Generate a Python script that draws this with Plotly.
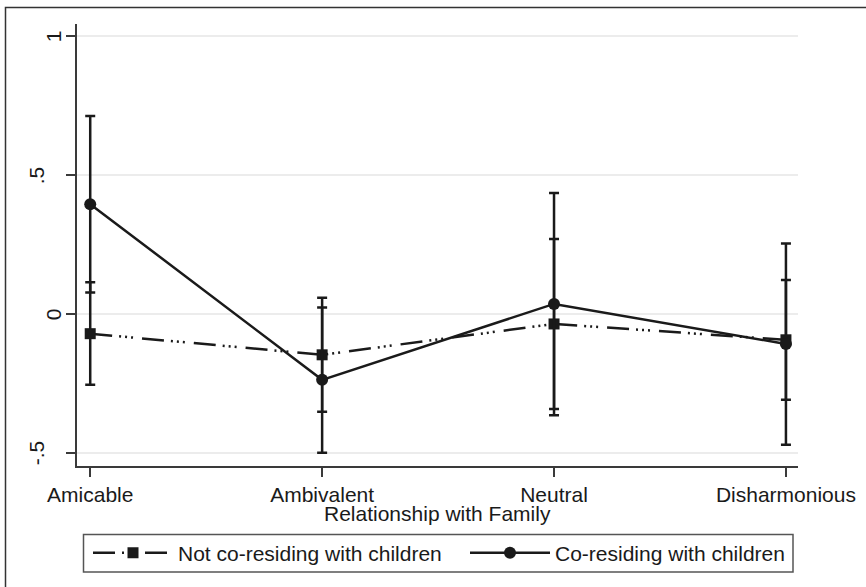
import plotly.graph_objects as go

# ---- data ----
categories = ["Amicable", "Ambivalent", "Neutral", "Disharmonious"]
not_mean = [-0.070, -0.146, -0.035, -0.092]
not_lo = [-0.254, -0.351, -0.341, -0.308]
not_hi = [0.115, 0.059, 0.271, 0.123]
co_mean = [0.396, -0.236, 0.037, -0.107]
co_lo = [0.078, -0.498, -0.363, -0.470]
co_hi = [0.713, 0.024, 0.436, 0.254]
y_tickvals = [-0.5, 0, 0.5, 1]
y_ticktext = ["-.5", "0", ".5", "1"]
series_names = ["Not co-residing with children", "Co-residing with children"]
x_title = "Relationship with Family"

W, H = 866, 587
L, R, T, B = 77, 68, 24, 121
PW, PH = W - L - R, H - T - B
FONT = "Liberation Sans, Arial, sans-serif"
FS = 21
INK = "#1a1a1a"
AX = "#3a3a3a"


def px_x(px):
    return (px - L) / PW


def px_y(py):
    return (H - B - py) / PH


fig = go.Figure()

fig.add_trace(go.Scatter(
    x=categories, y=not_mean, name=series_names[0], mode="lines+markers",
    legend="legend",
    line=dict(color=INK, width=2.5, dash="22px,7px,2px,4px,2px,4px,2px,9px"),
    marker=dict(symbol="square", size=11, color=INK),
    error_y=dict(type="data", symmetric=False,
                 array=[h - m for h, m in zip(not_hi, not_mean)],
                 arrayminus=[m - l for m, l in zip(not_mean, not_lo)],
                 color=INK, thickness=2.5, width=5),
))
fig.add_trace(go.Scatter(
    x=categories, y=co_mean, name=series_names[1], mode="lines+markers",
    legend="legend2",
    line=dict(color=INK, width=2.5),
    marker=dict(symbol="circle", size=12, color=INK),
    error_y=dict(type="data", symmetric=False,
                 array=[h - m for h, m in zip(co_hi, co_mean)],
                 arrayminus=[m - l for m, l in zip(co_mean, co_lo)],
                 color=INK, thickness=2.5, width=5),
))

annotations = []
# rotated y tick labels (Stata style)
for v, t in zip(y_tickvals, y_ticktext):
    cx = 36 if "." in t else 53
    annotations.append(dict(
        x=px_x(cx), xref="paper", y=v, yref="y", text=t, textangle=-90,
        showarrow=False, xanchor="center", yanchor="middle",
        font=dict(family=FONT, size=FS, color=INK),
    ))
# x axis title
annotations.append(dict(
    x=px_x(437), xref="paper", y=px_y(513), yref="paper", text=x_title,
    showarrow=False, xanchor="center", yanchor="middle",
    font=dict(family=FONT, size=FS, color=INK),
))

shapes = [
    # outer graph border
    dict(type="rect", xref="paper", yref="paper",
         x0=px_x(5.5), x1=px_x(880), y0=px_y(600), y1=px_y(7.5),
         line=dict(color="#333333", width=1.5), layer="below"),
    # legend frame
    dict(type="rect", xref="paper", yref="paper",
         x0=px_x(83.5), x1=px_x(793), y0=px_y(572), y1=px_y(534.5),
         line=dict(color="#555555", width=1.5), fillcolor="white", layer="below"),
]

leg_common = dict(orientation="h", xanchor="left", yanchor="middle",
                  bgcolor="rgba(0,0,0,0)", borderwidth=0, itemwidth=80,
                  font=dict(family=FONT, size=FS, color=INK))

fig.update_layout(
    width=W, height=H,
    margin=dict(l=L, r=R, t=T, b=B, autoexpand=False),
    paper_bgcolor="white", plot_bgcolor="white",
    font=dict(family=FONT, size=FS, color=INK),
    showlegend=True,
    legend=dict(x=px_x(88), y=px_y(553), **leg_common),
    legend2=dict(x=px_x(465), y=px_y(553), **leg_common),
    annotations=annotations,
    shapes=shapes,
    xaxis=dict(
        type="category", range=[-0.057, 3.052],
        showgrid=False, zeroline=False, automargin=False,
        showline=True, linecolor=AX, linewidth=1.5,
        ticks="outside", ticklen=9, tickwidth=1.5, tickcolor=AX,
        tickfont=dict(family=FONT, size=FS, color=INK),
    ),
    yaxis=dict(
        range=[-0.546, 1.044], tickvals=y_tickvals, ticktext=y_ticktext,
        showticklabels=False, automargin=False,
        showgrid=True, gridcolor="#ececec", gridwidth=2, zeroline=False,
        showline=True, linecolor=AX, linewidth=1.5,
        ticks="outside", ticklen=9, tickwidth=1.5, tickcolor=AX,
    ),
)

fig.write_html("out.html", config={"displayModeBar": False},
               post_script="document.body.style.margin='0';document.body.style.overflow='hidden';")
